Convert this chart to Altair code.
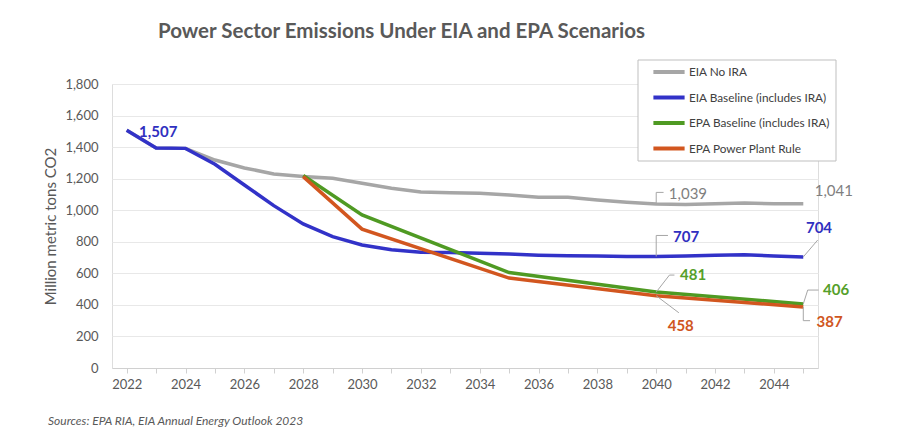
import altair as alt
import pandas as pd

# ---------------- data ----------------
years = list(range(2022, 2046))
eia_no_ira = [1507, 1395, 1392, 1318, 1268, 1230, 1213, 1202, 1171, 1139, 1116, 1111,
              1107, 1097, 1082, 1082, 1065, 1050, 1039, 1036, 1041, 1045, 1041, 1041]
eia_baseline = [1507, 1395, 1392, 1291, 1160, 1029, 913, 833, 780, 749, 734, 732,
                728, 722, 715, 711, 710, 707, 707, 710, 715, 717, 710, 704]
epa_years = [2028, 2030, 2035, 2040, 2045]
epa_baseline = [1220, 970, 605, 481, 406]
epa_rule = [1213, 880, 570, 458, 387]

series_names = ["EIA No IRA", "EIA Baseline (includes IRA)",
                "EPA Baseline (includes IRA)", "EPA Power Plant Rule"]
series_colors = ["#A6A6A6", "#3232C8", "#4F9A23", "#D2561F"]
label_colors = ["#7F7F7F", "#3030C0", "#55A02A", "#D0561E"]

# data labels: text, series index, anchor year, anchor value
label_texts = ["1,507", "1,039", "1,041", "707", "704", "481", "406", "458", "387"]
label_series = [1, 0, 0, 1, 1, 2, 2, 3, 3]
label_x = [2022.42, 2040.43, 2045.39, 2040.57, 2045.09, 2040.81, 2045.67, 2040.39, 2045.45]
label_y = [1496, 1103, 1124, 832, 885, 589, 494, 268, 290]

# leader lines (paths in data space), one id per label
leader_id = [1, 1, 1, 2, 2, 2, 3, 3, 3, 4, 4, 5, 5, 6, 6, 6, 7, 7, 7]
leader_x = [2040, 2040, 2040.25, 2040, 2040, 2040.4, 2040, 2040.45, 2040.62,
            2040, 2040.77, 2045, 2045.49, 2045, 2045.15, 2045.52, 2045, 2045, 2045.23]
leader_y = [1039, 1113, 1113, 707, 840, 840, 481, 589, 589,
            458, 350, 704, 811, 406, 494, 494, 387, 300, 300]

title_text = "Power Sector Emissions Under EIA and EPA Scenarios"
y_title = "Million metric tons CO2"
source_text = "Sources: EPA RIA, EIA Annual Energy Outlook 2023"

# ---------------- tables ----------------
rows = []
for y, v in zip(years, eia_no_ira):
    rows.append({"year": y, "value": v, "series": series_names[0]})
for y, v in zip(years, eia_baseline):
    rows.append({"year": y, "value": v, "series": series_names[1]})
for y, v in zip(epa_years, epa_baseline):
    rows.append({"year": y, "value": v, "series": series_names[2]})
for y, v in zip(epa_years, epa_rule):
    rows.append({"year": y, "value": v, "series": series_names[3]})
df = pd.DataFrame(rows)

labels_df = pd.DataFrame({
    "text": label_texts,
    "x": label_x,
    "y": label_y,
    "tcolor": [label_colors[i] for i in label_series],
    "bold": [i != 0 for i in label_series],
})
leaders_df = pd.DataFrame({"id": leader_id, "x": leader_x, "y": leader_y,
                           "order": list(range(len(leader_id)))})

FONT = "Lato"
TXT = "#595959"

xscale = alt.Scale(domain=[2021.5, 2045.5], nice=False, zero=False)
yscale = alt.Scale(domain=[0, 1800], nice=False)
color_scale = alt.Scale(domain=series_names, range=series_colors)

x_axis = alt.Axis(values=years, labelExpr="datum.value % 2 == 0 ? format(datum.value, 'd') : ''",
                  title=None, grid=False, domainColor="#D0D0D0", tickColor="#D0D0D0",
                  tickSize=5, labelPadding=5, labelFontSize=13, labelColor=TXT, labelFont=FONT,
                  labelOverlap=False)
y_axis = alt.Axis(values=list(range(0, 1801, 200)), format=",.0f", title=y_title,
                  domain=False, ticks=False, gridColor="#E8E8E8", labelPadding=14,
                  labelFontSize=13, labelColor=TXT, labelFont=FONT, titleFont=FONT,
                  titleFontSize=15, titleFontWeight="normal", titleColor=TXT, titlePadding=6,
                  labelOverlap=False)

def X(field):
    return alt.X(field, scale=xscale, axis=x_axis)

def Y(field):
    return alt.Y(field, scale=yscale, axis=y_axis)

legend = alt.Legend(title=None, orient="none", legendX=551, legendY=-18,
                    symbolType="M-3.9,0H3.9", symbolSize=64, symbolStrokeWidth=4,
                    labelFont=FONT, labelFontSize=11.8, labelColor="#404040",
                    labelOffset=14, rowPadding=9.5, padding=0)

base = alt.Chart(df)
layers = []
for i, name in enumerate(series_names):
    layers.append(base.transform_filter(alt.datum.series == name)
                  .mark_line(strokeWidth=3.5, clip=False).encode(
                      x=X("year:Q"), y=Y("value:Q"),
                      color=alt.Color("series:N", scale=color_scale, legend=legend,
                                      sort=series_names)))

leaders = alt.Chart(leaders_df).mark_line(color="#A6A6A6", strokeWidth=1).encode(
    x=X("x:Q"), y=Y("y:Q"), detail="id:N", order="order:Q")

text_bold = alt.Chart(labels_df).transform_filter(alt.datum.bold).mark_text(
    align="left", baseline="middle", font=FONT, fontSize=15, fontWeight="bold").encode(
    x=X("x:Q"), y=Y("y:Q"), text="text:N", color=alt.Color("tcolor:N", scale=None))
text_norm = alt.Chart(labels_df).transform_filter(~alt.datum.bold).mark_text(
    align="left", baseline="middle", font=FONT, fontSize=15, fontWeight="normal").encode(
    x=X("x:Q"), y=Y("y:Q"), text="text:N", color=alt.Color("tcolor:N", scale=None))

legend_box = alt.Chart(pd.DataFrame({"a": [0]})).mark_rect(
    fill="white", stroke="#BFBFBF", strokeWidth=1).encode(
    x=alt.value(526), x2=alt.value(724), y=alt.value(-24), y2=alt.value(77))

source = alt.Chart(pd.DataFrame({"t": [source_text]})).mark_text(
    align="left", baseline="middle", font=FONT, fontSize=12, fontStyle="italic",
    color=TXT).encode(x=alt.value(-64), y=alt.value(337), text="t:N")

chart = alt.layer(legend_box, *layers, leaders, text_bold, text_norm, source).properties(
    width=706, height=284,
    title=alt.TitleParams(text=title_text, anchor="start", frame="group", dx=46, offset=17,
                          font=FONT, fontSize=20.5, fontWeight="bold", color=TXT),
    autosize=alt.AutoSizeParams(type="none"),
    padding={"left": 104, "top": 76, "right": 86, "bottom": 60},
).configure_view(stroke=None).configure(background="white")

chart.save("out.html", embed_options={"renderer": "svg", "actions": False})
